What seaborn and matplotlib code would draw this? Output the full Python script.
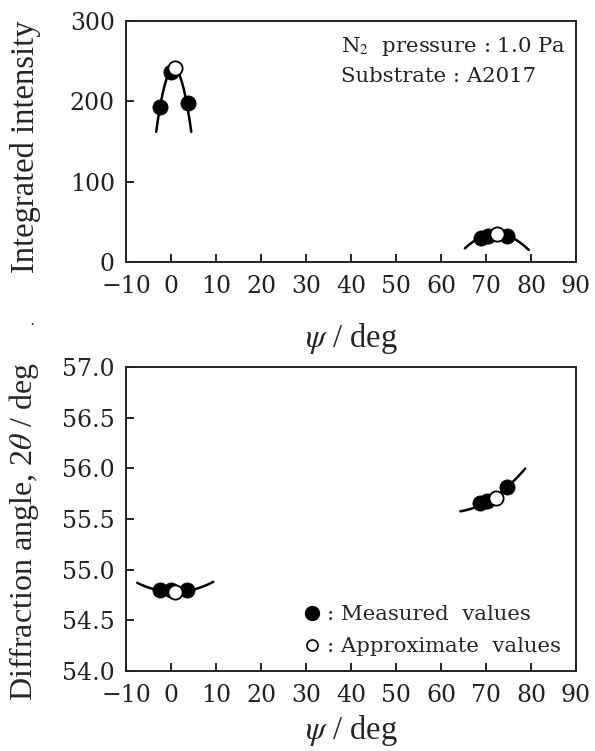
import numpy as np
import pandas as pd
import matplotlib
matplotlib.use("Agg")
import matplotlib.pyplot as plt
from matplotlib.lines import Line2D
import seaborn as sns

# ---- data -------------------------------------------------------------
# integrated intensity vs psi
int_meas_psi = [-2.5, 0.0, 3.8, 68.8, 70.5, 74.6]
int_meas_val = [193, 237, 198, 29.5, 32.7, 32.4]
int_appr_psi = [0.8, 72.4]
int_appr_val = [241, 34.4]
# points along the two approximation parabolas (intensity)
int_fit1_psi = [-3.3, 0.7, 4.5]
int_fit1_val = [162, 241, 162]
int_fit2_psi = [65.3, 72.4, 79.5]
int_fit2_val = [17, 35, 15]

# diffraction angle 2theta vs psi
ang_meas_psi = [-2.5, 0.0, 3.6, 68.6, 70.3, 74.7]
ang_meas_val = [54.80, 54.80, 54.80, 55.655, 55.68, 55.82]
ang_appr_psi = [0.8, 72.3]
ang_appr_val = [54.78, 55.71]
ang_fit1_psi = [-7.5, 0.8, 9.4]
ang_fit1_val = [54.87, 54.78, 54.88]
ang_fit2_psi = [64.3, 68.6, 72.3, 74.7, 78.7]
ang_fit2_val = [55.57, 55.655, 55.71, 55.82, 56.00]

x_ticks = list(range(-10, 91, 10))
int_ticks = [0, 100, 200, 300]
ang_ticks = [54.0, 54.5, 55.0, 55.5, 56.0, 56.5, 57.0]

# ---- style ------------------------------------------------------------
sns.set_theme(style="ticks")
plt.rcParams["font.family"] = ["DejaVu Serif"]
plt.rcParams["mathtext.fontset"] = "stix"

TICK_FS = 17
LABEL_FONT = "Liberation Serif"
NOTE_FS = 15.3

fig = plt.figure(figsize=(5.95, 7.51), dpi=100)
ax1 = fig.add_axes([0.2118, 0.6511, 0.7563, 0.3209])
ax2 = fig.add_axes([0.2118, 0.1065, 0.7563, 0.4048])


def smooth(xs, ys, n=120):
    c = np.polyfit(xs, ys, 2)
    xx = np.linspace(min(xs), max(xs), n)
    return pd.DataFrame({"psi": xx, "val": np.polyval(c, xx)})


def draw(ax, mpsi, mval, apsi, aval, fits):
    for fx, fy in fits:
        d = smooth(fx, fy)
        sns.lineplot(data=d, x="psi", y="val", ax=ax, color="black",
                     lw=1.8, sort=False, zorder=2)
    sns.scatterplot(x=mpsi, y=mval, ax=ax, color="black", s=120,
                    edgecolor="black", linewidth=0.5, zorder=3)
    sns.scatterplot(x=apsi, y=aval, ax=ax, color="white", s=105,
                    edgecolor="black", linewidth=1.3, zorder=4)


draw(ax1, int_meas_psi, int_meas_val, int_appr_psi, int_appr_val,
     [(int_fit1_psi, int_fit1_val), (int_fit2_psi, int_fit2_val)])
draw(ax2, ang_meas_psi, ang_meas_val, ang_appr_psi, ang_appr_val,
     [(ang_fit1_psi, ang_fit1_val), (ang_fit2_psi, ang_fit2_val)])

for ax, yt, ylim, fmt, lpad in [(ax1, int_ticks, (0, 300), "{:.0f}", 17),
                                (ax2, ang_ticks, (54.0, 57.0), "{:.1f}", 5)]:
    ax.set_xlim(-10, 90)
    ax.set_ylim(*ylim)
    ax.set_xticks(x_ticks)
    ax.set_xticklabels([("\u2212%d" % -t) if t < 0 else str(t) for t in x_ticks])
    ax.set_yticks(yt)
    ax.set_yticklabels([fmt.format(v) for v in yt])
    ax.tick_params(direction="in", length=6, width=1.2, labelsize=TICK_FS,
                   top=False, right=False, colors="black",
                   labelcolor="#222222")
    ax.tick_params(axis="x", pad=9)
    ax.tick_params(axis="y", pad=8)
    for sp in ax.spines.values():
        sp.set_visible(True)
        sp.set_linewidth(1.4)
        sp.set_color("#222222")
    ax.set_xlabel(r"$\psi$ / deg", fontsize=23.5, family=LABEL_FONT,
                  labelpad=lpad)

ax1.set_ylabel("Integrated intensity", fontsize=23.5, family=LABEL_FONT)
ax2.set_ylabel(r"Diffraction angle, 2$\theta$ / deg", fontsize=23,
               family=LABEL_FONT)
ax1.yaxis.set_label_coords(-0.188, 0.48)
ax2.yaxis.set_label_coords(-0.188, 0.46)

ax1.text(0.477, 0.895, r"N$_2$  pressure : 1.0 Pa", transform=ax1.transAxes,
         fontsize=NOTE_FS, ha="left", va="center", color="#222222")
ax1.text(0.477, 0.77, "Substrate : A2017", transform=ax1.transAxes,
         fontsize=NOTE_FS, ha="left", va="center", color="#222222")

handles = [
    Line2D([], [], ls="none", marker="o", ms=10, mfc="black", mec="black"),
    Line2D([], [], ls="none", marker="o", ms=8, mfc="white", mec="black",
           mew=1.2),
]
ax2.legend(handles, [": Measured  values", ": Approximate  values"],
           loc="lower right", frameon=False, fontsize=NOTE_FS,
           handletextpad=0.2, handlelength=1.0, borderaxespad=0.3,
           labelspacing=0.6, borderpad=0.4)

fig.text(0.05, 0.567, ".", fontsize=12, color="#444444")

fig.savefig("out.png", dpi=100)
